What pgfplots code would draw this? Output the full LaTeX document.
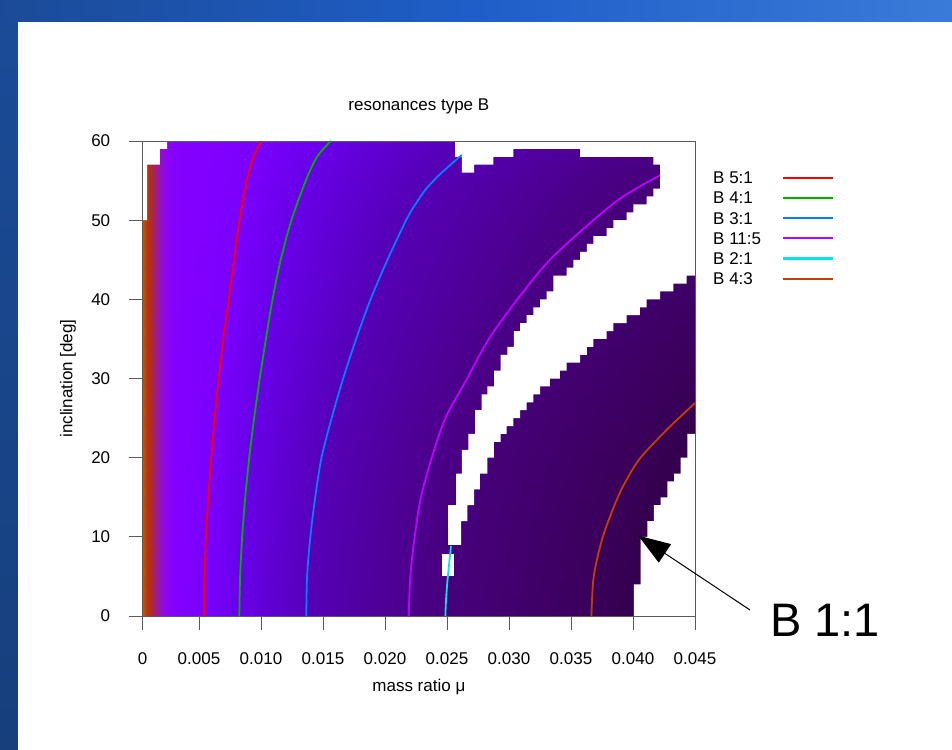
\documentclass[border=0pt]{standalone}
\usepackage{fontspec}
\setmainfont{Liberation Sans}
\usepackage{pgfplots}
\pgfplotsset{compat=1.18}
\usetikzlibrary{arrows.meta}
\pgfdeclarelayer{background}
\pgfsetlayers{background,main}
\definecolor{cred}{RGB}{255,0,0}
\definecolor{cgreen}{RGB}{0,176,0}
\definecolor{cblue}{RGB}{0,128,255}
\definecolor{cviolet}{RGB}{192,0,255}
\definecolor{ccyan}{RGB}{0,230,230}
\definecolor{crust}{RGB}{192,64,0}
\definecolor{slideL}{RGB}{27,75,152}
\definecolor{slideLb}{RGB}{22,63,124}
\definecolor{slideM}{RGB}{31,94,200}
\definecolor{slideR}{RGB}{58,122,216}
\definecolor{frame}{RGB}{90,90,90}
\newcommand\gnu{\fontsize{17}{20}\selectfont}
\newcommand\lent[2]{\makebox[70pt][l]{#1}\textcolor{#2}{\rule[5pt]{50pt}{2.1pt}}}
\pgfplotsset{colormap={slide}{
rgb255(0pt)=(205,95,0)
rgb255(5pt)=(200,80,0)
rgb255(8pt)=(185,52,5)
rgb255(12pt)=(170,40,60)
rgb255(16pt)=(155,25,150)
rgb255(20pt)=(145,12,215)
rgb255(25pt)=(137,4,245)
rgb255(32pt)=(130,0,255)
rgb255(55pt)=(122,0,252)
rgb255(83pt)=(104,0,232)
rgb255(137pt)=(86,0,185)
rgb255(220pt)=(75,0,138)
rgb255(250pt)=(71,0,124)
rgb255(310pt)=(64,0,106)
rgb255(365pt)=(58,0,90)
rgb255(405pt)=(52,0,76)
rgb255(450pt)=(46,0,64)
}}
\begin{document}
\begin{tikzpicture}
\begin{axis}[
  scale only axis, width=552.3pt, height=475pt,
  xmin=0.00046, xmax=0.045, ymin=0, ymax=60,
  scaled x ticks=false,
  xtick={0.00046,0.005,0.01,0.015,0.02,0.025,0.03,0.035,0.04,0.045},
  xticklabels={0,0.005,0.010,0.015,0.020,0.025,0.030,0.035,0.040,0.045},
  ytick={0,10,20,30,40,50,60},
  /pgf/number format/assume math mode=true,
  tick align=outside, tick pos=left,
  major tick length=14pt,
  axis line style={frame, line width=0.9pt},
  major tick style={frame, line width=0.9pt},
  tick label style={font=\gnu},
  xticklabel style={yshift=-19pt},
  yticklabel style={xshift=-15pt},
  label style={font=\gnu},
  title style={font=\gnu, at={(axis description cs:0.5,1.0526)}, anchor=base},
  title={resonances type B},
  xlabel={mass ratio μ},
  ylabel={inclination [deg]},
  xlabel style={at={(axis description cs:0.5,-0.1495)}, anchor=center},
  ylabel style={at={(axis description cs:-0.1353,0.5)}, anchor=center},
  axis on top,
  colormap name=slide, point meta min=0, point meta max=450,
  legend plot pos=none, legend cell align=left,
  legend style={draw=none, fill=none, at={(axis description cs:1,1)}, anchor=north west,
    xshift=14pt, yshift=-27.5pt, font=\gnu, row sep=2.2pt,
    nodes={inner sep=1pt, text height=12pt, text depth=4pt}},
]
% colour field
\addplot[surf, shader=interp, point meta=explicit, mesh/cols=20, forget plot] table[x=x, y=y, meta=c] {
x y c
0.00046 0 4.6
0.0008 0 8
0.0012 0 12
0.0016 0 16
0.002 0 20
0.0025 0 25
0.003 0 30
0.004 0 40
0.0055 0 55
0.0075 0 75
0.01 0 100
0.0125 0 125
0.015 0 150
0.0175 0 175
0.02 0 200
0.025 0 250
0.03 0 300
0.035 0 350
0.04 0 400
0.045 0 450

0.00046 10 4.6
0.0008 10 8
0.0012 10 12
0.0016 10 16
0.002 10 20
0.0025 10 25
0.003 10 30
0.004 10 38.8
0.0055 10 53.4
0.0075 10 72.8
0.01 10 97.1
0.0125 10 121.4
0.015 10 145.6
0.0175 10 169.9
0.02 10 194.2
0.025 10 242.7
0.03 10 291.3
0.035 10 339.8
0.04 10 388.3
0.045 10 436.9

0.00046 20 4.6
0.0008 20 8
0.0012 20 12
0.0016 20 16
0.002 20 20
0.0025 20 25
0.003 20 30
0.004 20 36.7
0.0055 20 50.5
0.0075 20 68.8
0.01 20 91.7
0.0125 20 114.7
0.015 20 137.6
0.0175 20 160.6
0.02 20 183.5
0.025 20 229.4
0.03 20 275.2
0.035 20 321.1
0.04 20 367.0
0.045 20 412.8

0.00046 30 4.6
0.0008 30 8
0.0012 30 12
0.0016 30 16
0.002 30 20
0.0025 30 25
0.003 30 30
0.004 30 33.3
0.0055 30 45.8
0.0075 30 62.5
0.01 30 83.3
0.0125 30 104.2
0.015 30 125
0.0175 30 145.8
0.02 30 166.7
0.025 30 208.3
0.03 30 250
0.035 30 291.7
0.04 30 333.3
0.045 30 375

0.00046 40 4.6
0.0008 40 8
0.0012 40 12
0.0016 40 16
0.002 40 20
0.0025 40 25
0.003 40 30
0.004 40 32
0.0055 40 40.9
0.0075 40 55.8
0.01 40 74.3
0.0125 40 92.9
0.015 40 111.5
0.0175 40 130.1
0.02 40 148.7
0.025 40 185.9
0.03 40 223
0.035 40 260.2
0.04 40 297.4
0.045 40 334.6

0.00046 50 4.6
0.0008 50 8
0.0012 50 12
0.0016 50 16
0.002 50 20
0.0025 50 25
0.003 50 30
0.004 50 32
0.0055 50 36.4
0.0075 50 49.7
0.01 50 66.2
0.0125 50 82.8
0.015 50 99.3
0.0175 50 115.9
0.02 50 132.5
0.025 50 165.6
0.03 50 198.7
0.035 50 231.8
0.04 50 264.9
0.045 50 298

0.00046 55 4.6
0.0008 55 8
0.0012 55 12
0.0016 55 16
0.002 55 20
0.0025 55 25
0.003 55 30
0.004 55 32
0.0055 55 33.7
0.0075 55 46
0.01 55 61.3
0.0125 55 76.7
0.015 55 92
0.0175 55 107.4
0.02 55 122.7
0.025 55 153.4
0.03 55 184
0.035 55 214.7
0.04 55 245.4
0.045 55 276.1

0.00046 60 4.6
0.0008 60 8
0.0012 60 12
0.0016 60 16
0.002 60 20
0.0025 60 25
0.003 60 30
0.004 60 32
0.0055 60 32
0.0075 60 40.3
0.01 60 53.8
0.0125 60 67.2
0.015 60 80.6
0.0175 60 94.1
0.02 60 107.5
0.025 60 134.4
0.03 60 161.3
0.035 60 188.2
0.04 60 215.1
0.045 60 241.9
};
% white (no data) regions
\addplot[fill=white, draw=none, forget plot] coordinates {
(0.00046,60) (0.00242,60) (0.00242,59) (0.00185,59) (0.00185,57) (0.00081,57) (0.00081,50) (0.00046,50)} -- cycle;
\addplot[fill=white, draw=none, forget plot] coordinates {
(0.02565,60) (0.045,60) (0.045,43)
(0.04433,43) (0.04433,42) (0.04325,42) (0.04325,41) (0.04218,41) (0.04218,40)
(0.04110,40) (0.04110,39) (0.04056,39) (0.04056,38) (0.03949,38) (0.03949,37)
(0.03841,37) (0.03841,36) (0.03788,36) (0.03788,35) (0.0368,35) (0.0368,34)
(0.03627,34) (0.03627,33) (0.03573,33) (0.03573,32) (0.03465,32) (0.03465,31)
(0.03411,31) (0.03411,30) (0.0333,30) (0.0333,29) (0.0325,29) (0.0325,28)
(0.03196,28) (0.03196,27) (0.03143,27) (0.03143,26) (0.03089,26) (0.03089,25)
(0.03035,25) (0.03035,24) (0.02981,24) (0.02981,23) (0.02933,23) (0.02933,22)
(0.02879,22) (0.02879,20) (0.02825,20) (0.02825,18) (0.02766,18) (0.02766,16)
(0.02718,16) (0.02718,14) (0.02664,14) (0.02664,12) (0.02613,12) (0.02613,9)
(0.0251,9) (0.0251,14) (0.02573,14) (0.02573,18) (0.02619,18) (0.02619,21)
(0.02672,21) (0.02672,23) (0.02726,23) (0.02726,26) (0.0278,26) (0.0278,28)
(0.02825,28) (0.02825,29) (0.0288,29) (0.0288,31) (0.02933,31) (0.02933,33)
(0.02986,33) (0.02986,34) (0.0304,34) (0.0304,36) (0.03089,36) (0.03089,37)
(0.03143,37) (0.03143,38) (0.03196,38) (0.03196,39) (0.0325,39) (0.0325,40)
(0.03304,40) (0.03304,41) (0.03357,41) (0.03357,43) (0.03465,43) (0.03465,44)
(0.03519,44) (0.03519,45) (0.03573,45) (0.03573,46) (0.03627,46) (0.03627,47)
(0.0368,47) (0.0368,48) (0.03788,48) (0.03788,49) (0.03841,49) (0.03841,50)
(0.03949,50) (0.03949,51) (0.04002,51) (0.04002,52) (0.0411,52) (0.0411,53)
(0.04164,53) (0.04164,54) (0.04218,54) (0.04218,57) (0.04164,57) (0.04164,58)
(0.03573,58) (0.03573,59) (0.03035,59) (0.03035,58) (0.02873,58) (0.02873,57)
(0.02718,57) (0.02718,56) (0.02619,56) (0.02619,58) (0.02565,58)} -- cycle;
\addplot[fill=white, draw=none, forget plot] coordinates {
(0.045,23) (0.04438,23) (0.04438,20) (0.04385,20) (0.04385,18) (0.04331,18)
(0.04331,17) (0.04277,17) (0.04277,15) (0.04223,15) (0.04223,14) (0.04169,14)
(0.04169,12) (0.04115,12) (0.04115,10) (0.04062,10) (0.04062,4) (0.04008,4)
(0.04008,0) (0.045,0)} -- cycle;
\addplot[fill=white, draw=none, forget plot] coordinates {
(0.02457,5) (0.02556,5) (0.02556,7.8) (0.02457,7.8)} -- cycle;
% resonance curves
\addplot[draw=cred, line width=1.8pt, smooth] coordinates {
(0.0054,0) (0.005443,5) (0.005562,10) (0.005751,15) (0.005994,20) (0.006264,25)
(0.006588,30) (0.006966,35) (0.007398,40) (0.00783,45) (0.008262,50) (0.008856,55)
(0.009396,58) (0.010044,60)};
\addlegendentry{\lent{B 5:1}{cred}}
\addplot[draw=cgreen, line width=1.8pt, smooth] coordinates {
(0.00825,0) (0.008316,5) (0.008481,10) (0.008729,15) (0.00905,20) (0.009446,25)
(0.0099,30) (0.010395,35) (0.010931,40) (0.011591,45) (0.012458,50) (0.013613,55)
(0.01452,58) (0.015634,60)};
\addlegendentry{\lent{B 4:1}{cgreen}}
\addplot[draw=cblue, line width=1.8pt, smooth] coordinates {
(0.01365,0) (0.013718,5) (0.013978,10) (0.014373,15) (0.014879,20) (0.015698,25)
(0.016626,30) (0.017677,35) (0.018837,40) (0.020202,45) (0.021704,50) (0.022454,52)
(0.023342,54) (0.02457,56) (0.026194,58.23)};
\addlegendentry{\lent{B 3:1}{cblue}}
\addplot[draw=cviolet, line width=1.8pt, smooth] coordinates {
(0.02191,0) (0.022041,5) (0.022392,10) (0.022896,15) (0.023772,20) (0.024868,25)
(0.026621,30) (0.028373,35) (0.030674,40) (0.033303,45) (0.036809,50) (0.039219,53)
(0.042177,55.68)};
\addlegendentry{\lent{B 11:5}{cviolet}}
\addplot[draw=ccyan, line width=1.8pt, smooth] coordinates {
(0.02487,0) (0.02492,2) (0.02504,4.5) (0.0252,7) (0.02532,8.84)};
\addlegendentry{\lent{B 2:1}{ccyan}}
\addplot[draw=crust, line width=1.8pt, smooth] coordinates {
(0.03665,0) (0.036833,5) (0.037566,10) (0.038776,15) (0.039765,18) (0.04061,20)
(0.041781,22) (0.043027,24) (0.045,26.9)};
\addlegendentry{\lent{B 4:3}{crust}}
\coordinate (O) at (rel axis cs:0,0);
\end{axis}
\begin{scope}[shift={(O)}, xshift=-142.7pt, yshift=-133pt, x=1pt, y=1pt]
\begin{pgfonlayer}{background}
\fill[white] (0,0) rectangle (952,749);
\shade[top color=slideL, bottom color=slideLb] (0,0) rectangle (18,749);
\shade[left color=slideL, right color=slideR, middle color=slideM] (0,727) rectangle (952,749);
\end{pgfonlayer}
\draw[line width=1pt, -{Triangle[length=32pt,width=22pt]}] (750,139) -- (638.3,213.3);
\node[anchor=base west, inner sep=0pt, font=\fontsize{47}{52}\selectfont] at (770,113) {B 1:1};
\end{scope}
\end{tikzpicture}
\end{document}
